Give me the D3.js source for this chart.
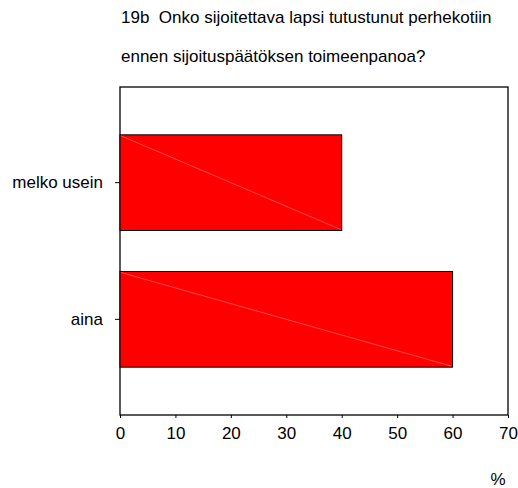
<!DOCTYPE html>
<html><head><meta charset="utf-8">
<script src="https://cdn.jsdelivr.net/npm/d3@7"></script>
<style>
body{margin:0;background:#fff;}
text{font-family:Arial,"Liberation Sans",sans-serif;fill:#000;}
</style></head>
<body>
<svg id="c" width="518" height="488"></svg>
<script>
const categories = ["melko usein", "aina"];
const values = [40, 60];
const xTicks = [0, 10, 20, 30, 40, 50, 60, 70];
const titleLines = ["19b  Onko sijoitettava lapsi tutustunut perhekotiin", "ennen sijoituspäätöksen toimeenpanoa?"];
const xLabel = "%";

const FONT = "Arial, 'Liberation Sans', sans-serif";
const FS = 17;
const svg = d3.select("#c");
const L = 120, R = 508, T = 87, B = 415;

const x = d3.scaleLinear().domain([0, 70]).range([L, R]);
const y = d3.scaleBand().domain(categories).range([T, B]).paddingInner(0.3).paddingOuter(0.35);

svg.append("rect").attr("x", L).attr("y", T).attr("width", R - L).attr("height", B - T)
  .attr("fill", "none").attr("stroke", "#000").attr("stroke-width", 1.3);

const g = svg.append("g");
categories.forEach((c, i) => {
  const y0 = y(c), h = y.bandwidth(), x0 = x(0), x1 = x(values[i]);
  g.append("rect").attr("x", x0).attr("y", y0).attr("width", x1 - x0).attr("height", h)
    .attr("fill", "#ff0000").attr("stroke", "#000").attr("stroke-width", 1);
  g.append("line").attr("x1", x0 + 1).attr("y1", y0 + 1).attr("x2", x1 - 1).attr("y2", y0 + h - 1)
    .attr("stroke", "#ff8080").attr("stroke-width", 0.6);
});

const xa = svg.append("g").attr("transform", `translate(0,${B})`)
  .call(d3.axisBottom(x).tickValues(xTicks).tickSize(3).tickPadding(9));
xa.select(".domain").remove();
xa.selectAll("line").attr("stroke", "#000");
xa.selectAll("text").attr("font-size", FS).attr("font-family", FONT);

const ya = svg.append("g").attr("transform", `translate(${L},0)`)
  .call(d3.axisLeft(y).tickSize(5).tickPadding(12));
ya.select(".domain").remove();
ya.selectAll("line").attr("stroke", "#000");
ya.selectAll("text").attr("font-size", FS).attr("font-family", FONT);

svg.selectAll(".title").data(titleLines).enter().append("text")
  .attr("x", 121).attr("y", (d, i) => 23 + i * 39)
  .attr("font-size", FS).style("white-space", "pre").text(d => d);

svg.append("text").attr("x", 498).attr("y", 485).attr("text-anchor", "middle")
  .attr("font-size", FS).text(xLabel);
</script>
</body></html>
